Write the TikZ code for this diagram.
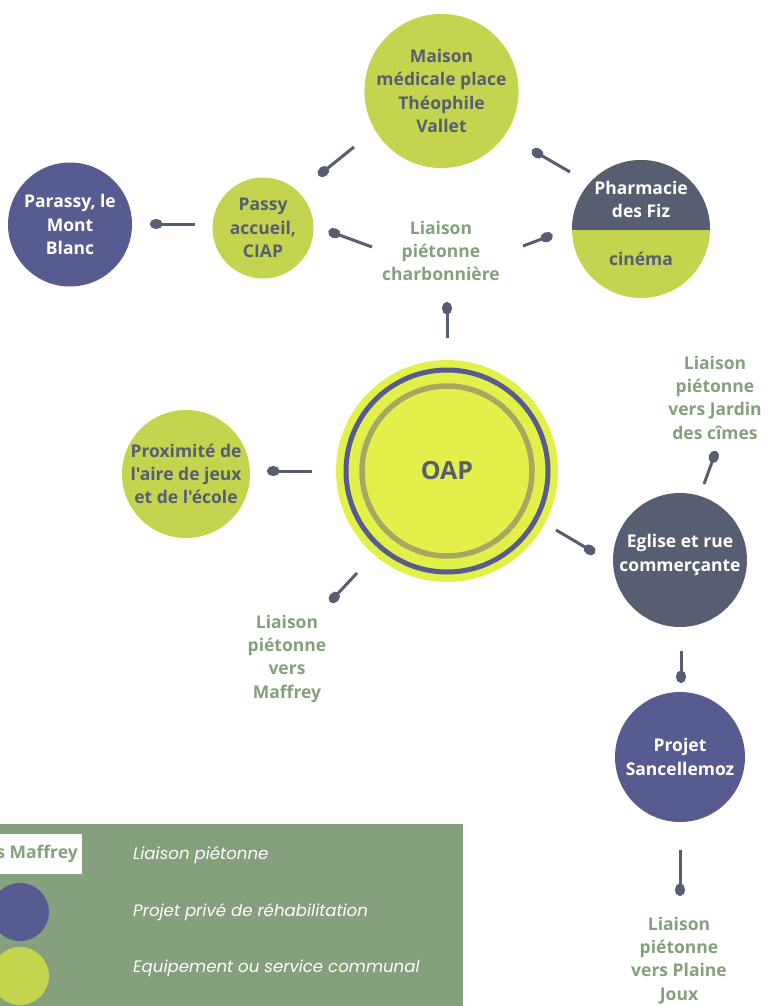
\documentclass[tikz,border=0pt]{standalone}
\usepackage{fontspec}
\setmainfont{Open Sans}[Ligatures=TeXOff]
\newfontfamily\legfont{Poppins}
\usetikzlibrary{arrows.meta}
\definecolor{lime}{HTML}{C4D44F}
\definecolor{oaplime}{HTML}{E4F04A}
\definecolor{purp}{HTML}{585B8F}
\definecolor{dkg}{HTML}{575E72}
\definecolor{olive}{HTML}{A3A862}
\definecolor{grn}{HTML}{84A07C}
\tikzset{
  bub/.style={circle, inner sep=0pt, align=center, font=\bfseries\fontsize{17.5}{23.3}\selectfont},
  limebub/.style={bub, fill=lime, text=dkg},
  purpbub/.style={bub, fill=purp, text=white},
  darkbub/.style={bub, fill=dkg, text=white},
  lbl/.style={align=center, inner sep=0pt, text=grn, font=\bfseries\fontsize{17.5}{23.3}\selectfont},
  txt/.style={align=center, inner sep=0pt, font=\bfseries\fontsize{17.5}{23.3}\selectfont},
  spoon/.style={draw=dkg, line width=3pt, -{Ellipse[length=12.5pt,width=10pt]}},
  legtxt/.style={anchor=west, inner sep=0pt, text=white, font=\legfont\itshape\fontsize{16.6}{20}\selectfont}
}
\begin{document}
\begin{tikzpicture}[x=1pt,y=-1pt]
\useasboundingbox (0,0) rectangle (769,1006);
% bubbles
\node[limebub, minimum size=152pt] (maison) at (441.5,91) {Maison\\médicale place\\Théophile\\Vallet};
\node[purpbub, minimum size=124pt] (parassy) at (70,224.5) {Parassy, le\\Mont\\Blanc};
\node[limebub, minimum size=101pt] (passy) at (263,228) {Passy\\accueil,\\CIAP};
\node[bub, fill=lime, minimum size=138pt] (pharm) at (641,229) {};
\begin{scope}
  \clip (pharm.west) rectangle (pharm.north -| pharm.east);
  \fill[dkg] (pharm.center) circle (69);
\end{scope}
\node[txt, text=white] (pharmt) at (641,199.5) {Pharmacie\\des Fiz};
\node[txt, text=dkg] (cinema) at (641,259) {cinéma};
\node[limebub, minimum size=128pt] (proxi) at (186,474) {Proximité de\\l'aire de jeux\\et de l'école};
\node[darkbub, minimum size=134pt] (eglise) at (680,560) {};
\node[txt, text=white] (eglt) at (680,555) {Eglise et rue\\commerçante};
\node[purpbub, minimum size=130pt] (sancel) at (680,757) {Projet\\Sancellemoz};
% OAP
\node[circle, fill=oaplime, minimum size=222pt, inner sep=0pt] (oap) at (447,471) {};
\draw[purp, line width=5pt] (oap.center) circle (101);
\draw[olive, line width=5.5pt] (oap.center) circle (85);
\node[txt, text=dkg, font=\bfseries\fontsize{25}{30}\selectfont] (oapt) at (oap.center) {OAP};
% labels
\node[lbl] (charb) at (441,251) {Liaison\\piétonne\\charbonnière};
\node[lbl] (jardin) at (715,397.5) {Liaison\\piétonne\\vers Jardin\\des cîmes};
\node[lbl] (maffrey) at (287,658.5) {Liaison\\piétonne\\vers\\Maffrey};
\node[lbl] (plaine) at (679,960.5) {Liaison\\piétonne\\vers Plaine\\Joux};
% connector coordinates
\coordinate (s1a) at (195,224);   \coordinate (s1b) at (150,224);
\coordinate (s2a) at (354,147);   \coordinate (s2b) at (318.5,175.5);
\coordinate (s3a) at (372,247);   \coordinate (s3b) at (328.5,231);
\coordinate (s4a) at (570,172);   \coordinate (s4b) at (532,150);
\coordinate (s5a) at (523,246);   \coordinate (s5b) at (552.5,235);
\coordinate (s6a) at (447,338);   \coordinate (s6b) at (447,302);
\coordinate (s7a) at (312,471);   \coordinate (s7b) at (267,471);
\coordinate (s8a) at (357,573);   \coordinate (s8b) at (330,602);
\coordinate (s9a) at (556,530);   \coordinate (s9b) at (595,553);
\coordinate (s10a) at (704,484);  \coordinate (s10b) at (716,451);
\coordinate (s11a) at (681,651);  \coordinate (s11b) at (681,683);
\coordinate (s12a) at (680,850);  \coordinate (s12b) at (680,896);
\foreach \i in {1,...,12} { \draw[spoon] (s\i a) -- (s\i b); }
% legend
\fill[grn] (0,824) rectangle (463,1006);
\node[fill=white, minimum width=82pt, minimum height=40pt, inner sep=0pt, anchor=north west] (legbox) at (0,834) {};
\node[anchor=east, inner sep=0pt, text=grn, font=\bfseries\fontsize{17.5}{23}\selectfont] (legmaf) at (78,854) {s Maffrey};
\node[circle, fill=purp, minimum size=58pt, inner sep=0pt] (legp) at (20,912) {};
\node[circle, fill=lime, minimum size=58pt, inner sep=0pt] (legl) at (20,976) {};
\node[legtxt] (leg1) at (133,855) {Liaison piétonne};
\node[legtxt] (leg2) at (133,912) {Projet privé de réhabilitation};
\node[legtxt] (leg3) at (133,968) {Equipement ou service communal};
\end{tikzpicture}
\end{document}
